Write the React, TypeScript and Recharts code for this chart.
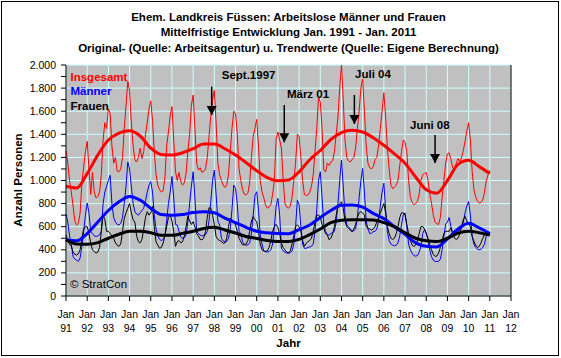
import { LineChart, Line, XAxis, YAxis, CartesianGrid, ReferenceLine, ReferenceDot } from 'recharts';

// monthly values Jan 1991 .. Jan 2011
const insgesamt = [
  1260, 1150, 1000, 900, 780, 650, 615, 630, 720, 980, 1120, 1250,
  1340, 1100, 880, 1070, 900, 850, 860, 900, 1050, 1350, 1500, 1450,
  1620, 1580, 1300, 1150, 1200, 1080, 1075, 1100, 1200, 1450, 1650, 1860,
  1780, 1500, 1300, 1180, 1160, 1200, 1280, 1190, 1250, 1400, 1500, 1620,
  1690, 1520, 1250, 1050, 960, 920, 900, 910, 1020, 1300, 1420, 1560,
  1640, 1350, 1080, 1000, 1070, 990, 960, 980, 1060, 1250, 1400, 1650,
  1740, 1450, 1150, 1090, 1110, 1070, 1080, 1100, 1200, 1380, 1560, 1700,
  1780, 1500, 1150, 1050, 1000, 960, 940, 960, 1050, 1250, 1450, 1600,
  1580, 1400, 1100, 1000, 920, 880, 875, 890, 980, 1200, 1380, 1450,
  1530, 1300, 1000, 900, 850, 790, 760, 770, 790, 880, 1000, 1360,
  1420, 1350, 1280, 1000, 800, 770, 760, 780, 850, 1000, 1150, 1400,
  1380, 1200, 1000, 880, 870, 875, 900, 950, 1050, 1250, 1450, 1720,
  1680, 1450, 1090, 1075, 1150, 1130, 1160, 1170, 1250, 1400, 1550, 1800,
  2000, 1700, 1350, 1200, 1170, 1160, 1180, 1200, 1280, 1450, 1600, 1800,
  1880, 1600, 1300, 1150, 1110, 1100, 1120, 1180, 1200, 1300, 1450, 1600,
  1760, 1550, 1280, 1100, 960, 930, 940, 960, 1000, 1130, 1250, 1350,
  1330, 1250, 1000, 860, 810, 790, 800, 820, 880, 1000, 1050, 1060,
  1070, 1000, 880, 800, 700, 640, 625, 620, 680, 850, 1000, 1150,
  1230, 1240, 1180, 1110, 1100, 1150, 1190, 1160, 1200, 1260, 1340, 1430,
  1500, 1350, 1080, 920, 860, 820, 805, 810, 830, 900, 1000, 1050,
  1090,
];

const maenner = [
  710, 640, 520, 450, 340, 320, 310, 300, 330, 430, 560, 700,
  805, 720, 560, 540, 520, 516, 520, 530, 560, 800, 900, 950,
  1000, 1045, 800, 680, 640, 620, 615, 630, 680, 800, 950, 1160,
  1100, 950, 800, 730, 710, 700, 720, 740, 760, 820, 900, 960,
  990, 900, 700, 580, 520, 490, 480, 490, 520, 650, 800, 900,
  1035, 850, 620, 615, 560, 510, 500, 505, 530, 640, 800, 950,
  1076, 850, 560, 540, 528, 520, 525, 530, 560, 650, 820, 1000,
  1090, 880, 650, 615, 500, 475, 470, 472, 500, 580, 750, 960,
  930, 800, 560, 540, 470, 445, 440, 442, 460, 540, 700, 870,
  903, 750, 528, 450, 390, 384, 380, 384, 400, 450, 600, 780,
  845, 700, 413, 390, 380, 372, 370, 375, 390, 450, 600, 830,
  790, 600, 450, 413, 413, 420, 425, 430, 450, 560, 750, 1000,
  1076, 850, 615, 560, 530, 528, 540, 550, 560, 640, 800, 1000,
  1176, 950, 700, 615, 600, 580, 560, 565, 580, 680, 850, 1000,
  1104, 900, 650, 580, 540, 545, 557, 560, 580, 650, 780, 900,
  977, 750, 560, 480, 450, 440, 435, 440, 460, 520, 620, 700,
  720, 600, 450, 400, 370, 350, 345, 350, 380, 430, 540, 574,
  550, 480, 400, 340, 310, 300, 298, 300, 320, 400, 520, 620,
  640, 680, 600, 540, 531, 540, 560, 570, 590, 640, 720, 780,
  818, 700, 520, 450, 420, 405, 400, 405, 420, 450, 520, 560,
  530,
];

const frauen = [
  530, 480, 450, 430, 380, 360, 355, 365, 400, 500, 580, 600,
  600, 540, 460, 400, 384, 372, 380, 420, 557, 700, 660, 560,
  560, 540, 520, 500, 460, 440, 430, 450, 560, 672, 720, 760,
  800, 720, 660, 640, 520, 470, 460, 490, 580, 680, 730, 700,
  720, 775, 600, 470, 440, 413, 420, 458, 520, 600, 680, 700,
  650, 560, 430, 470, 480, 460, 470, 520, 600, 690, 650, 620,
  643, 600, 540, 520, 490, 487, 500, 560, 680, 764, 759, 700,
  620, 514, 490, 480, 473, 456, 460, 500, 600, 672, 660, 640,
  615, 560, 500, 470, 442, 444, 450, 480, 560, 650, 687, 660,
  643, 560, 450, 399, 390, 387, 390, 420, 480, 560, 600, 620,
  590, 540, 456, 420, 399, 380, 372, 390, 450, 520, 600, 615,
  600, 560, 480, 430, 456, 470, 480, 500, 560, 640, 700, 701,
  680, 620, 586, 540, 528, 487, 500, 540, 600, 700, 780, 800,
  816, 760, 650, 600, 586, 570, 557, 580, 620, 680, 720, 730,
  720, 700, 600, 586, 580, 570, 580, 600, 640, 680, 720, 760,
  800, 720, 600, 540, 500, 490, 500, 540, 600, 680, 720, 720,
  700, 620, 540, 480, 440, 430, 440, 480, 540, 600, 602, 580,
  540, 500, 440, 400, 360, 343, 345, 372, 420, 480, 540, 560,
  560, 560, 590, 540, 500, 490, 500, 540, 600, 660, 689, 650,
  620, 600, 516, 473, 440, 420, 430, 460, 500, 530, 540, 540,
  531,
];

// trend values, every 6 months
const trendInsgesamt = [
  950, 935, 1060, 1220, 1350, 1410, 1430, 1385, 1280, 1225, 1220, 1240, 1275, 1315,
  1315, 1275, 1220, 1155, 1085, 1025, 998, 1005, 1075, 1180, 1260, 1355, 1415, 1435,
  1420, 1370, 1305, 1230, 1150, 1030, 920, 890, 1000, 1140, 1175, 1120, 1060,
];
const trendMaenner = [
  487, 478, 540, 640, 740, 815, 862, 830, 760, 705, 700, 705, 722, 730,
  720, 675, 635, 595, 560, 547, 541, 540, 574, 615, 680, 740, 785, 788,
  770, 715, 670, 600, 535, 460, 430, 425, 495, 580, 630, 590, 540,
];
const trendFrauen = [
  487, 450, 448, 462, 500, 535, 560, 560, 548, 525, 525, 542, 560, 585,
  595, 572, 545, 515, 498, 480, 472, 472, 490, 532, 580, 635, 655, 660,
  660, 657, 635, 600, 548, 500, 478, 472, 500, 545, 560, 548, 528,
];

const yearLabels = ['91', '92', '93', '94', '95', '96', '97', '98', '99', '00', '01',
  '02', '03', '04', '05', '06', '07', '08', '09', '10', '11', '12'];
const yTicks = [0, 100, 200, 300, 400, 500, 600, 700, 800, 900, 1000, 1100, 1200,
  1300, 1400, 1500, 1600, 1700, 1800, 1900, 2000];
const gridTicks = [0, 200, 400, 600, 800, 1000, 1200, 1400, 1600, 1800, 2000];

// annotations (month index, value)
const notes = [
  { text: 'Sept.1997', t: 88.2, v: 1879 },
  { text: 'März 01', t: 125.1, v: 1714 },
  { text: 'Juli 04', t: 163.7, v: 1887 },
  { text: 'Juni 08', t: 194.8, v: 1446 },
];
const arrows = [
  { t: 82.5, from: 1812, to: 1567 },
  { t: 123.6, from: 1654, to: 1331 },
  { t: 163.3, from: 1740, to: 1489 },
  { t: 209, from: 1394, to: 1152 },
];

const rows = insgesamt.map((v, i) => ({ t: i, ins: v, men: maenner[i], wom: frauen[i] }));
const trendRows = trendInsgesamt.map((v, i) => ({
  t: i * 6, ins: v, men: trendMaenner[i], wom: trendFrauen[i],
}));
const xTicks = yearLabels.map((_, i) => i * 12);

const FONT = '"Liberation Sans", Arial, sans-serif';

const fmt = (v: number) =>
  v >= 1000 ? `${Math.floor(v / 1000)}.${String(v % 1000).padStart(3, '0')}` : String(v);

const LeftTick = (props: any) => {
  const { x, y, payload } = props;
  if (payload.value % 200 !== 0) return <g />;
  return (
    <text x={x} y={y + 3.5} textAnchor="end" fontSize={10.5} fontFamily={FONT} fill="#000">
      {fmt(payload.value)}
    </text>
  );
};

const RightTick = (props: any) => {
  const { x, y, payload } = props;
  if (payload.value % 200 !== 0) return <g />;
  return (
    <text x={x} y={y + 3.5} textAnchor="start" fontSize={10.5} fontFamily={FONT} fill="#000">
      {fmt(payload.value)}
    </text>
  );
};

const YearTick = (props: any) => {
  const { x, y, payload } = props;
  const label = yearLabels[Math.round(payload.value / 12)];
  return (
    <g fontSize={10.5} fontFamily={FONT} fill="#000">
      <text x={x} y={y + 14.5} textAnchor="middle">Jan</text>
      <text x={x} y={y + 29} textAnchor="middle">{label}</text>
    </g>
  );
};

const arrowHead = (p: any) => (
  <polygon points={`${p.cx - 5},${p.cy - 9} ${p.cx + 5},${p.cy - 9} ${p.cx},${p.cy}`} fill="#000" />
);

const noteShape = (text: string) => (p: any) => (
  <text x={p.cx} y={p.cy} fontSize={11.5} fontWeight="bold" fontFamily={FONT} fill="#000">
    {text}
  </text>
);

export default function App() {
  return (
    <div style={{ position: 'absolute', left: 0, top: 0, width: 561, height: 358, background: '#fff' }}>
      <LineChart width={561} height={358} data={rows} margin={{ top: 65, right: 0, bottom: 17, left: 0 }}>
        <CartesianGrid
          yAxisId="left"
          horizontalValues={gridTicks}
          fill="#C0C0C0"
          stroke="#CCFFFF"
          strokeWidth={1}
        />
        <XAxis
          dataKey="t"
          type="number"
          domain={[0, 252]}
          ticks={xTicks}
          interval={0}
          height={45}
          tickSize={5}
          tickMargin={2}
          tick={<YearTick />}
          stroke="#000"
        />
        <YAxis
          yAxisId="left"
          domain={[0, 2000]}
          ticks={yTicks}
          interval={0}
          width={66}
          tickSize={5}
          tickMargin={5}
          tick={<LeftTick />}
          stroke="#000"
        />
        <YAxis
          yAxisId="right"
          orientation="right"
          domain={[0, 2000]}
          ticks={yTicks}
          interval={0}
          width={50}
          tickSize={5}
          tickMargin={2}
          tick={<RightTick />}
          stroke="#000"
        />
        <Line yAxisId="left" dataKey="ins" type="linear" stroke="#FF0000" strokeWidth={1} dot={false} isAnimationActive={false} />
        <Line yAxisId="left" dataKey="men" type="linear" stroke="#0000FF" strokeWidth={1} dot={false} isAnimationActive={false} />
        <Line yAxisId="left" dataKey="wom" type="linear" stroke="#000000" strokeWidth={1} dot={false} isAnimationActive={false} />
        <Line yAxisId="left" data={trendRows} dataKey="ins" type="monotone" stroke="#FF0000" strokeWidth={3} dot={false} isAnimationActive={false} />
        <Line yAxisId="left" data={trendRows} dataKey="men" type="monotone" stroke="#0000FF" strokeWidth={3} dot={false} isAnimationActive={false} />
        <Line yAxisId="left" data={trendRows} dataKey="wom" type="monotone" stroke="#000000" strokeWidth={3} dot={false} isAnimationActive={false} />
        {arrows.map((a, i) => (
          <ReferenceLine
            key={`al-${i}`}
            yAxisId="left"
            segment={[{ x: a.t, y: a.from }, { x: a.t, y: a.to }]}
            stroke="#000"
            strokeWidth={1.5}
          />
        ))}
        {arrows.map((a, i) => (
          <ReferenceDot key={`ah-${i}`} yAxisId="left" x={a.t} y={a.to} r={5} shape={arrowHead} />
        ))}
        {notes.map((n, i) => (
          <ReferenceDot key={`n-${i}`} yAxisId="left" x={n.t} y={n.v} r={1} shape={noteShape(n.text)} />
        ))}
      </LineChart>
      <svg
        width={561}
        height={358}
        style={{ position: 'absolute', left: 0, top: 0, pointerEvents: 'none' }}
        fontFamily={FONT}
      >
        <g fontSize={11.5} fontWeight="bold" fill="#000" textAnchor="middle">
          <text x={288.5} y={20.5}>Ehem. Landkreis Füssen: Arbeitslose Männer und Frauen</text>
          <text x={288.5} y={36}>Mittelfristige Entwicklung Jan. 1991 - Jan. 2011</text>
          <text x={288.5} y={51.5}>Original- (Quelle: Arbeitsagentur) u. Trendwerte (Quelle: Eigene Berechnung)</text>
          <text x={288.5} y={347}>Jahr</text>
          <text x={18} y={184} transform="rotate(-90 18 180)">Anzahl Personen</text>
        </g>
        <g fontSize={11.5} fontWeight="bold">
          <text x={70.5} y={80.5} fill="#FF0000">Insgesamt</text>
          <text x={70.5} y={95} fill="#0000FF">Männer</text>
          <text x={70.5} y={110} fill="#000">Frauen</text>
        </g>
        <text x={70} y={287.5} fontSize={11.5} fill="#000">© StratCon</text>
        <rect x={1.5} y={1.5} width={557} height={354} fill="none" stroke="#000" strokeWidth={1} />
      </svg>
    </div>
  );
}
